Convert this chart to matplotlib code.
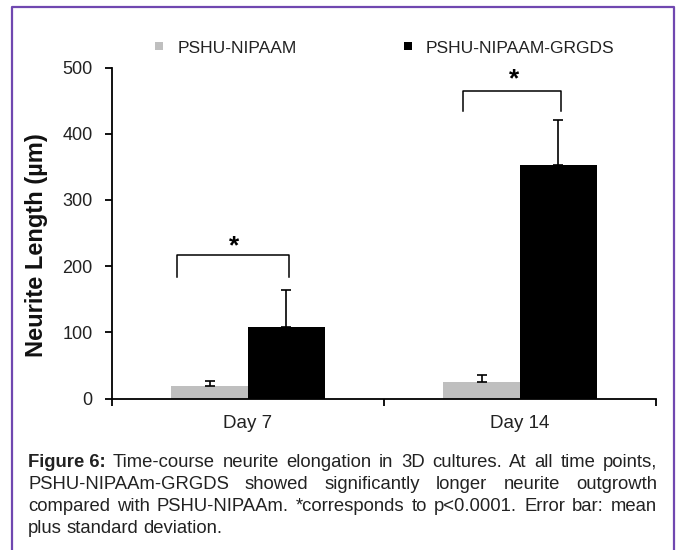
import matplotlib
matplotlib.use("Agg")
import matplotlib.pyplot as plt
from matplotlib.patches import Rectangle
from matplotlib.lines import Line2D

plt.rcParams['font.family'] = ['Liberation Sans', 'DejaVu Sans']

days = ["Day 7", "Day 14"]
series = ["PSHU-NIPAAM", "PSHU-NIPAAM-GRGDS"]
plain = [19, 25]
plain_sd = [8, 10]
grgds = [108, 352]
grgds_sd = [56, 69]

# significance brackets: (x left, x right, y top, y ends, star x, star y)
brackets = [(-0.26, 0.15, 217, 184, -0.05, 230),
            (0.79, 1.15, 465, 434, 0.98, 482)]

caption_lines = [
    "Time-course neurite elongation in 3D cultures. At all time points,",
    "PSHU-NIPAAm-GRGDS showed significantly longer neurite outgrowth",
    "compared with PSHU-NIPAAm. *corresponds to p<0.0001. Error bar: mean",
    "plus standard deviation.",
]

W, H = 676, 550
fig = plt.figure(figsize=(W / 100, H / 100), dpi=100)

def fx(x):
    return x / W

def fy(y):
    return 1 - y / H

ax = fig.add_axes([fx(112), fy(398.5), fx(656) - fx(112), fy(67.5) - fy(398.5)])

bw = 0.283
xs = list(range(len(days)))
ax.bar([x - bw / 2 for x in xs], plain, bw, color="#bfbfbf",
       yerr=[[0] * len(plain), plain_sd], capsize=3.5,
       error_kw=dict(elinewidth=1.2, capthick=1.2, ecolor="black"))
ax.bar([x + bw / 2 for x in xs], grgds, bw, color="black",
       yerr=[[0] * len(grgds), grgds_sd], capsize=3.5,
       error_kw=dict(elinewidth=1.2, capthick=1.2, ecolor="black"))

for x0, x1, ytop, yend, sx, sy in brackets:
    ax.plot([x0, x0, x1, x1], [yend, ytop, ytop, yend], color="black", lw=1.1)
    ax.text(sx, sy, "*", ha="center", va="center", fontsize=19, fontweight="bold")

ax.set_xlim(-0.5, 1.5)
ax.set_ylim(0, 500)
ax.set_yticks([0, 100, 200, 300, 400, 500])
ax.set_xticks([])
ax.set_xticks([-0.5, 0.5, 1.5], minor=True)
ax.tick_params(axis="x", which="minor", direction="out", length=5, width=1.3)
ax.tick_params(axis="y", direction="out", length=5, width=1.3, pad=9,
               labelsize=13, labelcolor="#222222")
for s in ["top", "right"]:
    ax.spines[s].set_visible(False)
for s in ["left", "bottom"]:
    ax.spines[s].set_linewidth(1.3)

for x, d in zip(xs, days):
    fig.text(fx(112 + 272 * (x + 0.5)), fy(428), d, ha="center", va="baseline",
             fontsize=13.5, color="#222222")

fig.text(fx(36.5), fy(245), "Neurite Length (\u00b5m)", rotation=90, ha="center",
         va="center", fontsize=17, fontweight="bold", color="#111111")

# legend
for (sq, tx), col, name in zip([(155, 178), (404, 426)], ["#bfbfbf", "black"], series):
    fig.add_artist(Rectangle((fx(sq), fy(50)), fx(8), 8 / H, transform=fig.transFigure,
                             facecolor=col, edgecolor="none"))
    fig.text(fx(tx), fy(53), name, ha="left", va="baseline", fontsize=12.5, color="#222222")

# frame around figure and caption
purple = "#7048b0"
fig.add_artist(Line2D([fx(12), fx(12), fx(674), fx(674)], [0, fy(7), fy(7), 0],
                      transform=fig.transFigure, color=purple, lw=1.6))

# justified caption
renderer = fig.canvas.get_renderer()
x_left, x_right = 28, 657
baselines = [467, 489, 511, 533]

for i, (line, yb) in enumerate(zip(caption_lines, baselines)):
    words = [(w, "normal") for w in line.split()]
    if i == 0:
        words = [("Figure 6:", "bold")] + words
    texts = []
    for w, wt in words:
        t = fig.text(0, fy(yb), w, ha="left", va="baseline", fontsize=13.3,
                     fontweight=wt, color="#222222")
        texts.append(t)
    widths = [t.get_window_extent(renderer).width for t in texts]
    if i < len(caption_lines) - 1:
        gap = (x_right - x_left - sum(widths)) / (len(words) - 1)
    else:
        gap = 5
    x = x_left
    for t, w in zip(texts, widths):
        t.set_x(fx(x))
        x += w + gap

fig.savefig("out.png", dpi=100, facecolor="white")
